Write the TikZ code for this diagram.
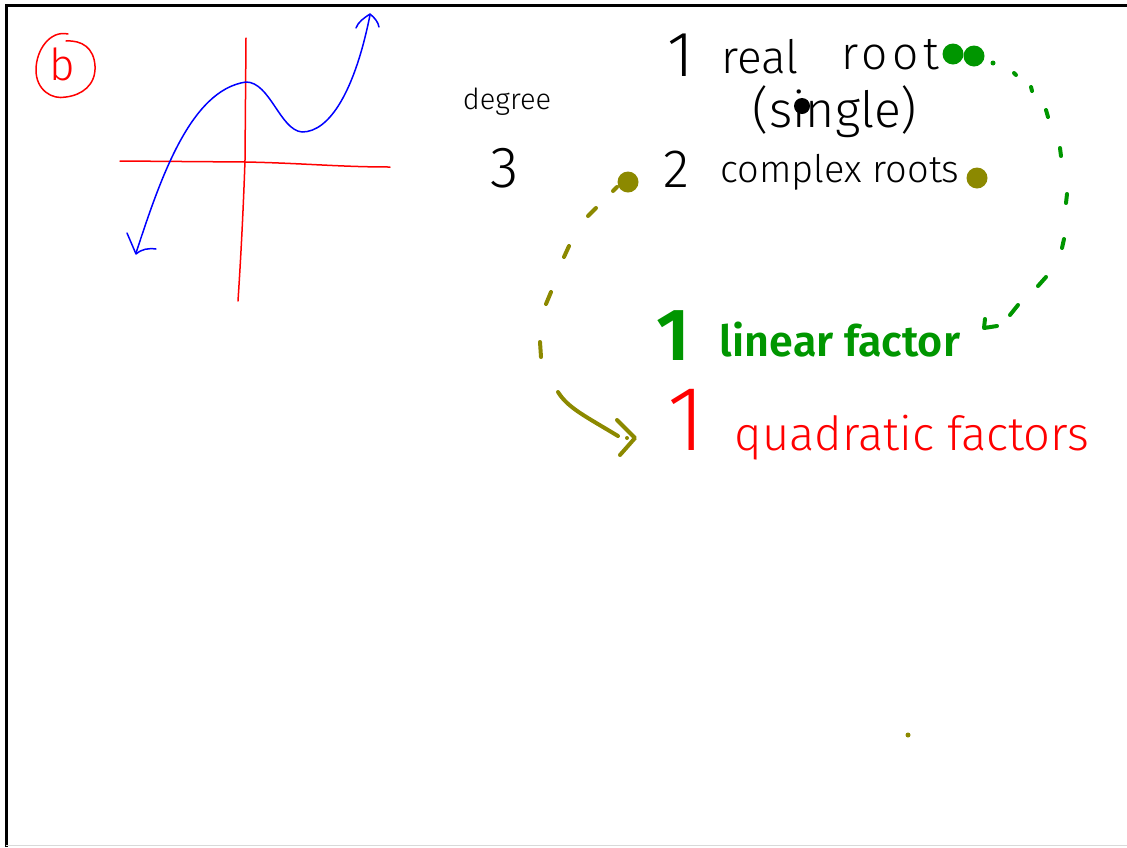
\documentclass[tikz,border=0pt]{standalone}
\usepackage{fontspec}
\newfontfamily\hand{Fira Sans Light}[BoldFont={Fira Sans SemiBold}]
\newcommand\fsz[1]{\fontsize{#1}{#1}\selectfont}
\definecolor{pgreen}{RGB}{0,150,0}
\definecolor{polive}{RGB}{140,137,0}
\definecolor{pred}{RGB}{255,0,0}
\definecolor{pblue}{RGB}{0,0,255}
\tikzset{
  txt/.style={inner sep=0pt, anchor=center, font=\hand},
  pen/.style={line width=1.5pt, line cap=round, line join=round},
  marker/.style={line width=4pt, line cap=round, line join=round},
  blob/.style={circle, fill=#1, inner sep=0pt, minimum size=21pt},
}
\begin{document}
\begin{tikzpicture}[x=1pt,y=-1pt]
\useasboundingbox (0,0) rectangle (1127,847);
% frame
\draw[line width=3pt] (6,847) -- (6,5) -- (1127,5);
\draw[black!15, line width=1pt] (6,845.5) -- (1127,845.5);

% circled b
\draw[pred, pen] (68,34) .. controls (50,30) and (36,50) .. (36,70)
  .. controls (36,90) and (52,100) .. (66,97)
  .. controls (82,95) and (96,85) .. (95,66)
  .. controls (94,48) and (82,40) .. (66,41);
\node[txt, pred] (b) at (62,64) {\fsz{44}b};

% axes
\draw[pred, pen] (120,161) -- (245,162) .. controls (300,163) and (340,167) .. (390,167);
\draw[pred, pen] (246,38) -- (245,160) .. controls (243,220) and (240,270) .. (238,301);

% cubic graph
\draw[pblue, pen] (136,253) .. controls (160,180) and (190,90) .. (246,82)
  .. controls (270,82) and (280,130) .. (302,132)
  .. controls (330,132) and (355,90) .. (370,15);
\draw[pblue, pen] (127,233) -- (136,254) .. controls (142,249) and (148,248) .. (156,249);
\draw[pblue, pen] (356,28) .. controls (358,22) and (364,18) .. (370,14) .. controls (375,18) and (378,22) .. (379,27);

% degree 3
\node[txt] (deg) at (507,102) {\fsz{29}degree};
\node[txt] (three) at (505,168) {\fsz{58}3};

% 1 real root (single)
\node[txt] (one) at (681,55) {\fsz{64}1};
\node[txt] (real) at (760,57) {\fsz{46}real};
\node[txt] (root) at (890,55) {\fsz{46}\addfontfeature{LetterSpace=10}root};
\node[txt] (single) at (835,112) {\fsz{50}(single)};
\node[circle, fill=black, inner sep=0pt, minimum size=16pt] (bdot) at (802,106) {};

% 2 complex roots
\node[txt] (two) at (676,169) {\fsz{54}2};
\node[txt] (complex) at (840,172) {\fsz{38}complex roots};

% marker dots
\node[blob=pgreen] (g1) at (953,54) {};
\node[blob=pgreen] (g2) at (974,56) {};
\node[blob=polive] (o1) at (628,182) {};
\node[blob=polive] (o2) at (977,178) {};
\node[circle, fill=polive, inner sep=0pt, minimum size=5pt] (o3) at (908,735) {};

% green dashed arc
\node[circle, fill=pgreen, inner sep=0pt, minimum size=5pt] (gd) at (993,63) {};
\draw[pgreen, marker] (1014,73) -- (1016,75);
\draw[pgreen, marker] (1031,87) -- (1032,91);
\draw[pgreen, marker] (1046,110) -- (1048,117);
\draw[pgreen, marker] (1060,148) -- (1061,156);
\draw[pgreen, marker] (1067,194) -- (1066,203);
\draw[pgreen, marker] (1064,239) -- (1062,248);
\draw[pgreen, marker] (1046,277) -- (1038,286);
\draw[pgreen, marker] (1018,305) -- (1010,315);
\draw[pgreen, marker] (985,319) -- (984,328) -- (997,326);

% olive dashed arc
\draw[polive, marker] (613,191) -- (617,187);
\draw[polive, marker] (588,216) -- (596,208);
\draw[polive, marker] (564,257) -- (569,246);
\draw[polive, marker] (546,304) -- (551,292);
\draw[polive, marker] (540,342) -- (541,357);
\draw[polive, marker] (558,392) .. controls (568,408) and (585,416) .. (618,436);
\draw[polive, marker] (617,420) -- (635,438) -- (620,455);
\node[circle, fill=polive, inner sep=0pt, minimum size=4pt] (od) at (627,438) {};

% factors
\node[txt, pgreen] (gone) at (673,336) {\fsz{74}\bfseries 1};
\node[txt, pgreen] (linear) at (840,340) {\fsz{43}\bfseries linear factor};
\node[txt, pred] (rone) at (686,420) {\fsz{92}1};
\node[txt, pred] (quad) at (912,438) {\fsz{47}quadratic factors};
\end{tikzpicture}
\end{document}
